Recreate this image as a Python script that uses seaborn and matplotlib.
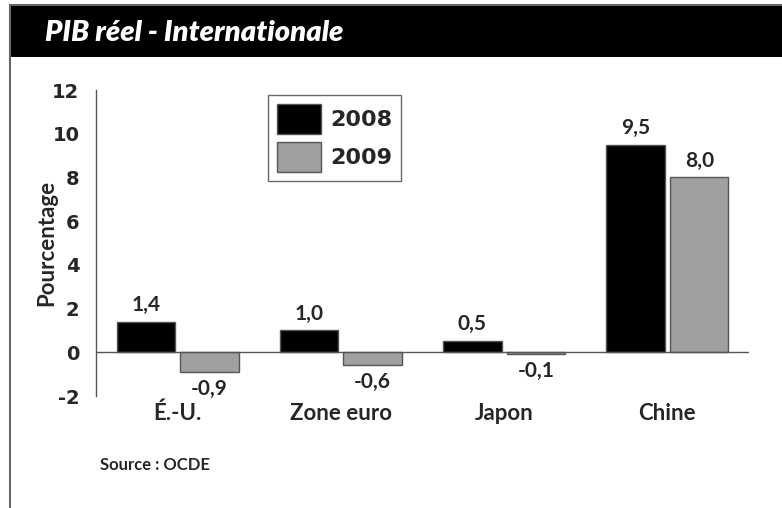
import pandas as pd
import seaborn as sns
import matplotlib.pyplot as plt
from matplotlib.patches import Rectangle
from matplotlib.lines import Line2D

# Data
regions = ["É.-U.", "Zone euro", "Japon", "Chine"]
pib_2008 = [1.4, 1.0, 0.5, 9.5]
pib_2009 = [-0.9, -0.6, -0.1, 8.0]
years = ["2008", "2009"]
y_ticks = [-2, 0, 2, 4, 6, 8, 10, 12]

df = pd.DataFrame({
    "Région": regions * 2,
    "Année": [years[0]] * len(regions) + [years[1]] * len(regions),
    "Pourcentage": pib_2008 + pib_2009,
})

sns.set_style("white")
plt.rcParams["font.family"] = ["Lato", "DejaVu Sans"]

fig = plt.figure(figsize=(7.82, 5.08), dpi=100)
ax = fig.add_axes([96 / 782, 1 - 396 / 508, 653 / 782, 306 / 508])

sns.barplot(data=df, x="Région", y="Pourcentage", hue="Année", ax=ax,
            palette=["black", "#a0a0a0"], width=0.78, gap=0.08,
            edgecolor="#555555", linewidth=1, saturation=1)

# value labels
for cont, vals in zip(ax.containers, [pib_2008, pib_2009]):
    ax.bar_label(cont, labels=[f"{v:.1f}".replace(".", ",") for v in vals],
                 padding=5, fontsize=15, fontweight="bold")

ax.axhline(0, color="#555555", lw=1)
ax.set_ylim(-2, 12)
ax.set_xlim(-0.5, 3.5)
ax.set_yticks(y_ticks)
ax.set_yticklabels([str(t) for t in y_ticks], fontsize=14, fontweight="bold",
                   family="DejaVu Sans")
ax.tick_params(axis="y", length=0, pad=12)
ax.tick_params(axis="x", length=0, pad=5, labelsize=16)
for lab in ax.get_xticklabels():
    lab.set_fontweight("bold")
ax.set_xlabel("")
ax.set_ylabel("Pourcentage", fontsize=16, fontweight="bold", labelpad=-4)

for side in ["top", "right", "bottom"]:
    ax.spines[side].set_visible(False)
ax.spines["left"].set_color("#555555")
ax.spines["left"].set_linewidth(1)

leg = ax.legend(loc="upper left", bbox_to_anchor=(161 / 653, 1 + 6 / 306),
                frameon=True, fancybox=False, edgecolor="#444444",
                handlelength=2.0, handleheight=1.7, handletextpad=0.4,
                labelspacing=0.35, borderpad=0.4,
                prop={"family": "DejaVu Sans", "weight": "bold", "size": 16})
leg.get_frame().set_linewidth(1)

# title band and frame
fig.patches.append(Rectangle((10 / 782, 1 - 57 / 508), 772 / 782, 52 / 508,
                             transform=fig.transFigure, facecolor="black",
                             edgecolor="none", zorder=0))
fig.lines.append(Line2D([10 / 782, 10 / 782], [0, 1 - 5 / 508],
                        transform=fig.transFigure, color="#666666", lw=1.5))
fig.lines.append(Line2D([10 / 782, 1], [1 - 5 / 508, 1 - 5 / 508],
                        transform=fig.transFigure, color="#666666", lw=1.5))
fig.text(45 / 782, 1 - 33 / 508, "PIB réel - Internationale", color="white",
         fontsize=21, fontweight="heavy", fontstyle="italic", va="center")
fig.text(100 / 782, 1 - 465 / 508, "Source : OCDE", fontsize=12,
         fontweight="bold", va="center")

fig.savefig("out.png", dpi=100)
